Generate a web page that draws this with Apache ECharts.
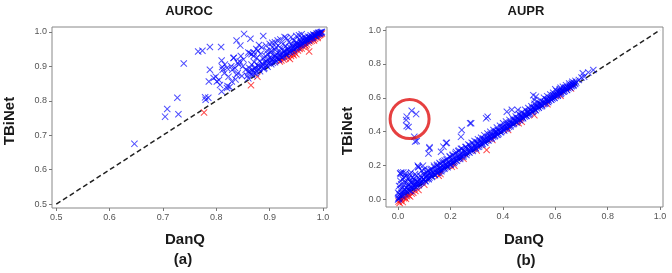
<!DOCTYPE html>
<html><head><meta charset="utf-8">
<script src="https://cdn.jsdelivr.net/npm/echarts@6/dist/echarts.min.js"></script>
<style>html,body{margin:0;padding:0;background:#fff}#c{width:672px;height:273px}</style>
</head><body><div id="c"></div>
<script>
// ---------- data ----------
const aurocTicks = [0.5, 0.6, 0.7, 0.8, 0.9, 1.0];
const auprTicks = [0.0, 0.2, 0.4, 0.6, 0.8, 1.0];
const aurocDiag = [[0.5, 0.5], [1.0, 1.0]];
const auprDiag = [[0.0, 0.0], [1.0, 1.0]];
const aurocBlue = [
[0.6465,0.675],[0.704,0.754],[0.708,0.776],[0.727,0.809],[0.729,0.761],[0.739,0.908],[0.766,0.943],[0.774,0.945],
[0.788,0.956],[0.779,0.81],[0.785,0.809],[0.78,0.803],[0.788,0.89],[0.786,0.856],[0.809,0.956],[0.81,0.917],
[0.799,0.87],[0.807,0.846],[0.81,0.827],[0.821,0.843],[0.833,0.925],[0.852,0.994],[0.864,0.98],[0.838,0.975],
[0.845,0.96],[0.888,0.988],[0.863,0.938],[0.931,0.982],[0.811,0.898],[0.832,0.924],[0.844,0.914],[0.82,0.837],
[0.801,0.856],[0.795,0.866],[0.838,0.875],[0.829,0.856],[0.805,0.86],[0.812,0.89],[0.815,0.88],[0.825,0.84],
[0.83,0.89],[0.835,0.895],[0.84,0.91],[0.846,0.93],[0.84,0.88],[0.85,0.9],[0.855,0.89],[0.86,0.94],[0.866,0.935],
[0.823,0.87],[0.828,0.9],[0.836,0.862],[0.842,0.905],[0.848,0.872],[0.851,0.92],[0.82,0.895],[0.816,0.905],
[0.858,0.872],[0.86,0.885],[0.862,0.895],[0.865,0.878],[0.866,0.905],[0.868,0.89],[0.87,0.882],[0.871,0.912],
[0.873,0.897],[0.875,0.886],[0.876,0.925],[0.878,0.903],[0.88,0.892],[0.881,0.915],[0.883,0.936],[0.885,0.898],
[0.886,0.908],[0.888,0.922],[0.89,0.895],[0.891,0.912],[0.892,0.93],[0.894,0.903],[0.895,0.945],[0.896,0.918],
[0.898,0.908],[0.9,0.925],[0.901,0.912],[0.902,0.94],[0.904,0.918],[0.905,0.955],[0.906,0.91],[0.908,0.93],
[0.909,0.92],[0.91,0.948],[0.912,0.916],[0.913,0.935],[0.914,0.925],[0.916,0.96],[0.917,0.922],[0.918,0.942],
[0.92,0.93],[0.921,0.952],[0.922,0.926],[0.924,0.938],[0.925,0.965],[0.926,0.93],[0.928,0.945],[0.929,0.936],
[0.93,0.958],[0.932,0.935],[0.933,0.948],[0.934,0.94],[0.936,0.97],[0.937,0.942],[0.938,0.955],[0.94,0.946],
[0.941,0.965],[0.942,0.944],[0.944,0.955],[0.945,0.975],[0.946,0.95],[0.948,0.962],[0.949,0.953],[0.95,0.97],
[0.952,0.956],[0.953,0.966],[0.954,0.96],[0.956,0.978],[0.957,0.961],[0.958,0.97],[0.96,0.965],[0.961,0.982],
[0.962,0.967],[0.964,0.975],[0.965,0.969],[0.966,0.985],[0.968,0.972],[0.969,0.979],[0.97,0.974],[0.972,0.986],
[0.973,0.977],[0.974,0.982],[0.976,0.98],[0.977,0.99],[0.978,0.982],[0.98,0.986],[0.981,0.984],[0.982,0.992],
[0.984,0.988],[0.985,0.99],[0.986,0.989],[0.988,0.995],[0.989,0.992],[0.99,0.994],[0.992,0.996],[0.993,0.995],
[0.994,0.998],[0.996,0.999],[0.997,0.998],[0.998,1.0],[0.87,0.94],[0.875,0.95],[0.88,0.962],[0.885,0.955],
[0.893,0.96],[0.9,0.965],[0.91,0.97],[0.915,0.975],[0.92,0.978],[0.905,0.968],[0.928,0.985],[0.94,0.985],
[0.95,0.988],[0.955,0.99],[0.96,0.993],[0.87,0.93],[0.878,0.945],[0.897,0.935],[0.903,0.945],[0.912,0.955],
[0.86,0.865],[0.868,0.873],[0.874,0.879],[0.882,0.886],[0.889,0.892],[0.896,0.899],[0.903,0.906],[0.91,0.912],
[0.917,0.919],[0.924,0.927],[0.931,0.933],[0.938,0.941],[0.945,0.947],[0.952,0.954],[0.959,0.962],[0.966,0.968],
[0.973,0.975],[0.98,0.982],[0.987,0.988],[0.994,0.995],
[0.863,0.885],[0.872,0.893],[0.879,0.9],[0.887,0.905],[0.895,0.913],[0.903,0.923],[0.911,0.93],[0.919,0.936],
[0.927,0.943],[0.935,0.95],[0.943,0.958],[0.951,0.964],[0.959,0.972],[0.967,0.978],[0.975,0.985],[0.983,0.99],
[0.991,0.997]
];
const aurocRed = [
[0.777,0.766],[0.865,0.845],[0.877,0.87],[0.974,0.943],
[0.922,0.917],[0.926,0.92],[0.93,0.923],[0.935,0.926],[0.938,0.921],[0.94,0.93],
[0.943,0.936],[0.947,0.94],[0.95,0.935],[0.953,0.946],[0.956,0.95],[0.96,0.952],[0.963,0.957],[0.966,0.962],
[0.97,0.963],[0.973,0.968],[0.976,0.972],[0.979,0.974],[0.982,0.978],[0.985,0.98],[0.987,0.984],[0.99,0.986],
[0.992,0.989],[0.994,0.991],[0.996,0.993],[0.998,0.995],[0.99,0.982],[0.983,0.975],[0.968,0.958],[0.945,0.932],
[0.919,0.914],[0.956,0.953],[0.988,0.991]
];
const auprBlue = [
[0.002,0.01],[0.005,0.03],[0.008,0.06],[0.01,0.15],[0.012,0.09],[0.015,0.02],[0.018,0.12],[0.02,0.16],
[0.022,0.05],[0.025,0.1],[0.028,0.035],[0.03,0.14],[0.032,0.07],[0.035,0.045],[0.038,0.12],[0.04,0.09],
[0.042,0.06],[0.045,0.15],[0.048,0.075],[0.05,0.1],[0.052,0.065],[0.055,0.13],[0.058,0.085],[0.06,0.07],
[0.063,0.11],[0.066,0.09],[0.07,0.14],[0.072,0.08],[0.075,0.105],[0.078,0.19],[0.08,0.095],[0.083,0.12],
[0.086,0.1],[0.09,0.13],[0.093,0.11],[0.096,0.15],[0.1,0.12],
[0.0,0.04],[0.004,0.08],[0.009,0.11],[0.013,0.04],[0.017,0.07],[0.021,0.13],[0.026,0.06],[0.031,0.1],
[0.036,0.08],[0.041,0.13],[0.046,0.11],[0.05,0.05],[0.056,0.1],[0.061,0.12],[0.067,0.075],[0.073,0.11],
[0.079,0.085],[0.084,0.14],[0.089,0.1],[0.095,0.12],[0.0,0.0],[0.003,0.005],[0.007,0.015],[0.011,0.025],
[0.016,0.03],[0.024,0.03],[0.029,0.05],[0.037,0.06],[0.044,0.05],[0.054,0.07],[0.062,0.08],[0.071,0.09],
[0.082,0.095],[0.092,0.105],[0.012,0.16],[0.03,0.155],[0.05,0.16],[0.065,0.15],[0.09,0.17],[0.1,0.18],[0.095,0.2],
[0.103,0.11],[0.105,0.135],[0.108,0.16],[0.11,0.12],[0.113,0.145],[0.116,0.125],[0.118,0.17],[0.12,0.13],
[0.123,0.155],[0.126,0.14],[0.128,0.18],[0.13,0.138],[0.133,0.16],[0.136,0.15],[0.138,0.19],[0.14,0.148],
[0.143,0.17],[0.146,0.16],[0.148,0.2],[0.15,0.158],[0.153,0.18],[0.156,0.165],[0.158,0.215],[0.16,0.17],
[0.163,0.19],[0.166,0.175],[0.168,0.22],[0.17,0.18],[0.173,0.2],[0.176,0.185],[0.178,0.23],[0.18,0.19],
[0.183,0.21],[0.186,0.195],[0.188,0.24],[0.19,0.2],[0.193,0.22],[0.196,0.205],[0.198,0.25],
[0.2,0.21],[0.203,0.23],[0.206,0.215],[0.208,0.26],[0.21,0.22],[0.213,0.24],[0.216,0.225],[0.219,0.27],
[0.222,0.23],[0.225,0.25],[0.228,0.24],[0.23,0.285],[0.233,0.245],[0.236,0.265],[0.238,0.25],[0.24,0.3],
[0.243,0.255],[0.246,0.275],[0.25,0.262],[0.253,0.29],[0.256,0.268],[0.26,0.31],[0.263,0.275],[0.266,0.295],
[0.27,0.28],[0.273,0.32],[0.276,0.29],[0.28,0.305],[0.283,0.292],[0.286,0.33],[0.29,0.3],[0.293,0.318],
[0.296,0.305],[0.3,0.34],
[0.303,0.312],[0.306,0.33],[0.31,0.32],[0.313,0.35],[0.316,0.325],[0.32,0.34],[0.323,0.33],[0.326,0.36],
[0.33,0.338],[0.333,0.355],[0.336,0.345],[0.34,0.37],[0.343,0.352],[0.346,0.368],[0.35,0.358],[0.353,0.385],
[0.356,0.365],[0.36,0.38],[0.363,0.37],[0.366,0.395],[0.37,0.378],[0.373,0.392],[0.376,0.383],[0.38,0.41],
[0.383,0.39],[0.386,0.405],[0.39,0.398],[0.393,0.42],[0.396,0.405],[0.4,0.43],
[0.403,0.412],[0.406,0.428],[0.41,0.418],[0.413,0.445],[0.416,0.424],[0.42,0.44],[0.423,0.43],[0.426,0.455],
[0.43,0.438],[0.433,0.452],[0.436,0.444],[0.44,0.47],[0.443,0.45],[0.446,0.465],[0.45,0.458],[0.453,0.48],
[0.456,0.465],[0.46,0.478],[0.463,0.47],[0.466,0.495],[0.47,0.478],[0.473,0.49],[0.476,0.483],[0.48,0.505],
[0.483,0.49],[0.486,0.502],[0.49,0.495],[0.493,0.515],[0.496,0.502],[0.5,0.52],
[0.503,0.51],[0.506,0.528],[0.51,0.518],[0.513,0.54],[0.516,0.524],[0.52,0.538],[0.523,0.53],[0.526,0.55],
[0.53,0.538],[0.533,0.555],[0.536,0.544],[0.54,0.565],[0.543,0.55],[0.546,0.562],[0.55,0.556],[0.553,0.575],
[0.556,0.563],[0.56,0.578],[0.563,0.57],[0.566,0.59],[0.57,0.577],[0.573,0.59],[0.576,0.583],[0.58,0.6],
[0.583,0.59],[0.586,0.602],[0.59,0.596],[0.593,0.615],[0.596,0.602],[0.6,0.618],
[0.603,0.61],[0.606,0.625],[0.61,0.615],[0.613,0.635],[0.616,0.622],[0.62,0.638],[0.623,0.63],[0.626,0.645],
[0.63,0.636],[0.633,0.652],[0.636,0.642],[0.64,0.66],[0.643,0.648],[0.646,0.662],[0.65,0.656],[0.653,0.672],
[0.656,0.662],[0.66,0.675],[0.663,0.668],[0.666,0.68],[0.67,0.676],[0.673,0.688],[0.676,0.682],[0.68,0.69],
[0.102,0.15],[0.114,0.17],[0.125,0.175],[0.137,0.2],[0.149,0.205],[0.161,0.21],[0.172,0.225],[0.185,0.235],
[0.197,0.255],[0.209,0.265],[0.221,0.28],[0.232,0.29],[0.244,0.3],[0.257,0.31],[0.268,0.325],[0.281,0.335],
[0.292,0.345],[0.305,0.355],[0.317,0.365],[0.329,0.38],[0.341,0.39],[0.352,0.4],[0.364,0.41],[0.377,0.425],
[0.389,0.435],[0.401,0.45],[0.412,0.46],[0.425,0.47],[0.437,0.48],[0.449,0.49],[0.461,0.505],[0.472,0.515],
[0.485,0.53],[0.497,0.54],[0.509,0.55],[0.521,0.565],[0.533,0.575],[0.545,0.585],[0.557,0.6],[0.569,0.61],
[0.581,0.62],[0.592,0.63],[0.605,0.64],[0.617,0.65],[0.629,0.665],[0.641,0.675],[0.653,0.685],[0.665,0.695],
[0.677,0.7],
[0.105,0.108],[0.117,0.12],[0.129,0.133],[0.141,0.143],[0.153,0.157],[0.165,0.167],[0.177,0.181],[0.189,0.191],
[0.201,0.205],[0.213,0.215],[0.225,0.229],[0.237,0.239],[0.249,0.253],[0.261,0.263],[0.273,0.277],[0.285,0.287],
[0.297,0.301],[0.309,0.311],[0.321,0.325],[0.333,0.335],[0.345,0.349],[0.357,0.359],[0.369,0.373],[0.381,0.383],
[0.393,0.397],[0.405,0.407],[0.417,0.421],[0.429,0.431],[0.441,0.445],[0.453,0.455],[0.465,0.469],[0.477,0.479],
[0.489,0.493],[0.501,0.503],[0.513,0.517],[0.525,0.527],[0.537,0.541],[0.549,0.551],[0.561,0.565],[0.573,0.575],
[0.585,0.589],[0.597,0.599],[0.609,0.613],[0.621,0.623],[0.633,0.637],[0.645,0.647],[0.657,0.661],[0.669,0.671],
[0.111,0.14],[0.135,0.16],[0.159,0.185],[0.183,0.205],[0.207,0.235],[0.231,0.255],[0.255,0.28],[0.279,0.3],
[0.303,0.33],[0.327,0.35],[0.351,0.375],[0.375,0.4],[0.399,0.425],[0.423,0.445],[0.447,0.47],[0.471,0.495],
[0.495,0.52],[0.519,0.545],[0.543,0.565],[0.567,0.59],[0.591,0.615],[0.615,0.64],[0.639,0.66],[0.663,0.685],
[0.008,0.155],[0.077,0.193],[0.12,0.308],[0.116,0.272],[0.186,0.335],[0.173,0.312],[0.243,0.41],[0.275,0.45],
[0.336,0.479],[0.415,0.518],[0.434,0.53],[0.516,0.616],[0.526,0.607],[0.52,0.587],[0.745,0.764],[0.726,0.75],
[0.7,0.72],[0.69,0.705],[0.71,0.725],[0.062,0.37],[0.071,0.345],[0.065,0.342],[0.033,0.489],[0.031,0.469],
[0.033,0.434],[0.04,0.428],[0.052,0.524],[0.069,0.504],[0.12,0.302],[0.075,0.2],[0.183,0.333],[0.164,0.282],
[0.24,0.37],[0.279,0.45],[0.342,0.488],[0.374,0.4],[0.457,0.528],[0.705,0.745],[0.6,0.65],[0.62,0.66]
];
const auprRed = [
[0.002,-0.012],[0.006,-0.02],[0.01,-0.005],[0.014,0.002],[0.018,-0.015],[0.022,0.008],[0.026,0.012],[0.03,0.004],
[0.034,0.02],[0.04,0.025],[0.046,0.018],[0.052,0.035],[0.058,0.04],[0.066,0.05],[0.078,0.056],[0.1,0.088],
[0.155,0.14],[0.162,0.15],[0.205,0.193],[0.215,0.2],[0.25,0.24],[0.3,0.29],[0.338,0.292],[0.36,0.352],
[0.42,0.41],[0.46,0.45],[0.472,0.459],[0.52,0.498],[0.57,0.562],[0.62,0.612],[0.66,0.655]
];
const highlightCenter = [[0.044, 0.475]];

// ---------- chart ----------
const FONT = '"Liberation Sans", Arial, sans-serif';
const XMARK = 'path://M0,1L1,0L5,4L9,0L10,1L6,5L10,9L9,10L5,6L1,10L0,9L4,5Z';
function axis(gi, min, max, ticks) {
  return {
    type: 'value', gridIndex: gi, min: min, max: max,
    splitLine: {show: false},
    axisLine: {show: false, onZero: false},
    axisTick: {show: true, customValues: ticks, length: 3, lineStyle: {color: '#777'}},
    axisLabel: {customValues: ticks, fontSize: 9, color: '#555', margin: 5, fontFamily: FONT,
      formatter: v => v.toFixed(1)}
  };
}
function scatter(gi, data, color, z) {
  return {type: 'scatter', xAxisIndex: gi, yAxisIndex: gi, data: data, symbol: XMARK, symbolSize: 7,
    itemStyle: {color: color, opacity: 0.7}, silent: true, animation: false, z: z, large: false};
}
function diag(gi, data) {
  return {type: 'line', xAxisIndex: gi, yAxisIndex: gi, data: data, symbol: 'none', silent: true,
    lineStyle: {color: '#222', width: 1.5, type: [5, 3]}, animation: false, z: 1};
}
function txt(x, y, s, size, rot) {
  return {type: 'text', x: x, y: y, rotation: rot || 0,
    style: {text: s, font: 'bold ' + size + 'px ' + FONT, fill: '#1a1a1a', textAlign: 'center', textVerticalAlign: 'middle'}};
}
const chart = echarts.init(document.getElementById('c'), null, {renderer: 'canvas'});
chart.setOption({
  backgroundColor: '#fff',
  animation: false,
  grid: [
    {left: 52, top: 27, width: 275, height: 181, show: true, borderColor: '#888', borderWidth: 1},
    {left: 386, top: 27, width: 277, height: 180, show: true, borderColor: '#888', borderWidth: 1}
  ],
  xAxis: [axis(0, 0.492, 1.0075, aurocTicks), axis(1, -0.046, 1.011, auprTicks)],
  yAxis: [axis(0, 0.489, 1.014, aurocTicks), axis(1, -0.044, 1.018, auprTicks)],
  series: [
    diag(0, aurocDiag), scatter(0, aurocRed, '#ff0000', 2), scatter(0, aurocBlue, '#0000ff', 3),
    diag(1, auprDiag), scatter(1, auprRed, '#ff0000', 2), scatter(1, auprBlue, '#0000ff', 3),
    {type: 'scatter', xAxisIndex: 1, yAxisIndex: 1, data: highlightCenter, symbol: 'circle', symbolSize: 39,
      itemStyle: {color: 'rgba(0,0,0,0)', borderColor: '#e01010', borderWidth: 3}, silent: true, z: 5}
  ],
  graphic: [
    txt(189, 11, 'AUROC', 13), txt(526, 11, 'AUPR', 13),
    txt(10, 121, 'TBiNet', 15, Math.PI / 2), txt(348, 131, 'TBiNet', 15, Math.PI / 2),
    txt(185, 240, 'DanQ', 15), txt(524, 240, 'DanQ', 15),
    txt(183, 260, '(a)', 15), txt(526, 261, '(b)', 15)
  ]
});
</script></body></html>
